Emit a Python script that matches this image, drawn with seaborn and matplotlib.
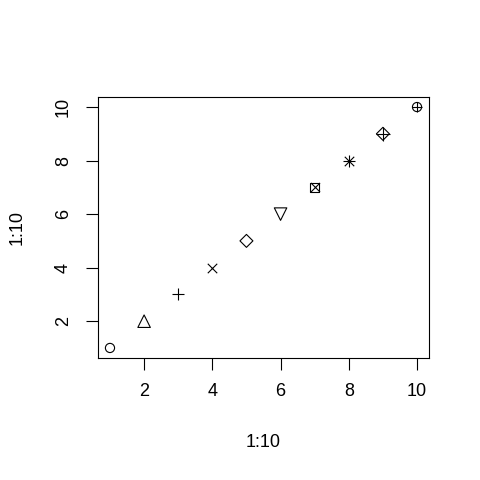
import matplotlib
matplotlib.use("Agg")
import matplotlib.pyplot as plt
import seaborn as sns
import pandas as pd

# data: plot(1:10, 1:10, pch = 1:10)
x_vals = list(range(1, 11))
y_vals = list(range(1, 11))
pch_codes = list(range(1, 11))
tick_vals = [2, 4, 6, 8, 10]

# each R pch drawn as one or more matplotlib markers: (marker, size in points)
pch_markers = {
    1: [("o", 6.6)],
    2: [("^", 9.0)],
    3: [("+", 9.0)],
    4: [("x", 6.8)],
    5: [("D", 6.6)],
    6: [("v", 9.0)],
    7: [("s", 6.6), ("x", 6.6)],
    8: [("+", 9.0), ("x", 6.8)],
    9: [("D", 6.6), ("+", 9.4)],
    10: [("o", 6.6), ("+", 6.6)],
}
line_markers = {"+", "x"}

sns.set_style("white")
plt.rcParams["font.family"] = ["Liberation Sans", "DejaVu Sans"]
plt.rcParams["text.color"] = "black"
plt.rcParams["axes.labelcolor"] = "black"
plt.rcParams["xtick.color"] = "black"
plt.rcParams["ytick.color"] = "black"

df = pd.DataFrame({"x": x_vals, "y": y_vals, "pch": pch_codes})

fig = plt.figure(figsize=(4.8, 4.8), dpi=100)
ax = fig.add_axes([97.7 / 480, 1 - 357.6 / 480, 331.6 / 480, 260.2 / 480])

# draw every point with its own symbol, composite symbols get layered
for _, row in df.iterrows():
    for marker, size in pch_markers[row["pch"]]:
        if marker in line_markers:
            sns.scatterplot(x=[row["x"]], y=[row["y"]], ax=ax, marker=marker, s=size ** 2,
                            color="black", linewidth=0.8, legend=False)
        else:
            sns.scatterplot(x=[row["x"]], y=[row["y"]], ax=ax, marker=marker, s=size ** 2,
                            facecolor="none", edgecolor="black",
                            linewidth=0.8, legend=False)

# R style axis range (4% padding)
span = max(x_vals) - min(x_vals)
ax.set_xlim(min(x_vals) - 0.04 * span, max(x_vals) + 0.04 * span)
ax.set_ylim(min(y_vals) - 0.04 * span, max(y_vals) + 0.04 * span)
ax.set_xticks(tick_vals)
ax.set_yticks(tick_vals)

for s in ax.spines.values():
    s.set_visible(True)
    s.set_color("black")
    s.set_linewidth(0.8)

ax.tick_params(axis="both", direction="out", length=8.5, width=0.8, color="black",
               labelsize=13, pad=10, left=True, bottom=True)
ax.tick_params(axis="y", labelrotation=90)
for lab in ax.get_yticklabels():
    lab.set_va("center")

ax.set_xlabel("1:10", fontsize=13, va="center")
ax.set_ylabel("1:10", fontsize=13, va="center")
ax.xaxis.set_label_coords(0.5, -(442.5 - 357.6) / 260.2)
ax.yaxis.set_label_coords(-(97.7 - 17) / 331.6, 0.5)

plt.savefig("out.png", dpi=100)
